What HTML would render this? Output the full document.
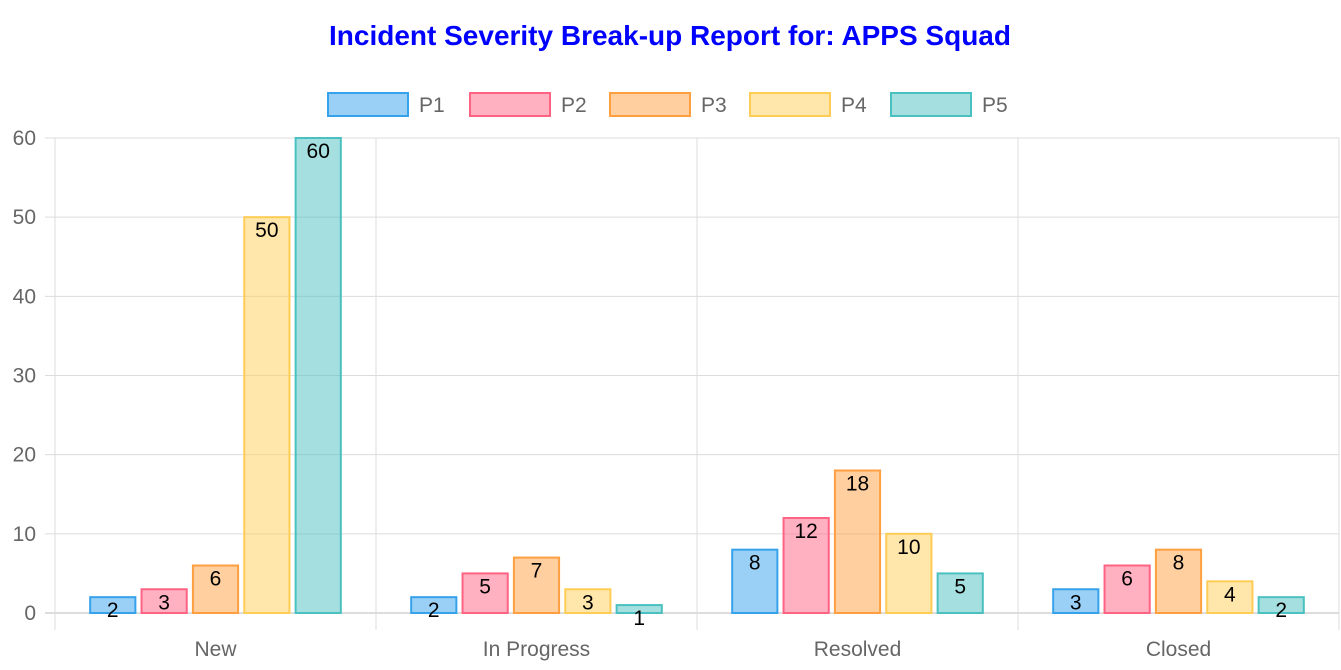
<!DOCTYPE html>
<html><head><meta charset="utf-8"><style>
body{margin:0;background:#fff;}
svg{display:block;font-family:"Liberation Sans",Arial,sans-serif;}
</style></head><body>
<svg id="chart" width="1341" height="670" viewBox="0 0 1341 670" xmlns="http://www.w3.org/2000/svg">
<text x="670" y="45" text-anchor="middle" font-size="28" font-weight="bold" fill="#0000ff">Incident Severity Break-up Report for: APPS Squad</text>
<g id="grid"></g><g id="bars"></g><g id="legend"></g><g id="axes"></g>
</svg>
<script>
const categories = ["New","In Progress","Resolved","Closed"];
const seriesNames = ["P1","P2","P3","P4","P5"];
const p1 = [2,2,8,3];
const p2 = [3,5,12,6];
const p3 = [6,7,18,8];
const p4 = [50,3,10,4];
const p5 = [60,1,5,2];
const yTicks = [0,10,20,30,40,50,60];

const series=[p1,p2,p3,p4,p5];
const colors=[[54,162,235],[255,99,132],[255,159,64],[255,205,86],[75,192,192]];
const NS="http://www.w3.org/2000/svg";
const L=55,R=1339,T=138,B=613,yMax=60;
const y=v=>B-(v/yMax)*(B-T);
const catW=(R-L)/categories.length;
const x=i=>L+catW*i;
function mk(tag,attrs,parent){const e=document.createElementNS(NS,tag);for(const k in attrs)e.setAttribute(k,attrs[k]);parent.appendChild(e);return e;}
const grid=document.getElementById('grid'),bars=document.getElementById('bars'),legend=document.getElementById('legend'),axes=document.getElementById('axes');
yTicks.forEach(t=>{
  const ln=mk('line',{x1:L-10,x2:R,y1:y(t),y2:y(t),stroke:t===0?'#bbb':'#dcdcdc','stroke-width':1},grid);
  
  
  const tx=mk('text',{x:L-19,y:y(t)+7,'text-anchor':'end','font-size':21,fill:'#666'},axes);
  tx.textContent=t;
  
  
});
for(let i=0;i<=categories.length;i++){
  const ln=mk('line',{x1:x(i),x2:x(i),y1:T,y2:B+17,stroke:'#dcdcdc','stroke-width':1},grid);
  
  
}
categories.forEach((c,i)=>{
  const tx=mk('text',{x:x(i)+catW/2,y:656,'text-anchor':'middle','font-size':21,fill:'#666'},axes);
  tx.textContent=c;
  
  
  const groupW=catW*0.8,step=groupW/series.length,bw=step*0.88;
  series.forEach((s,j)=>{
    const [r,g,b]=colors[j];
    const bx=x(i)+catW*0.1+step*j+(step-bw)/2;
    const top=y(s[i]);
    const rect=mk('rect',{x:bx,y:top,width:bw,height:B-top,fill:`rgba(${r},${g},${b},0.5)`,stroke:`rgb(${r},${g},${b})`,'stroke-width':2},bars);
    
    
    const lb=mk('text',{x:bx+bw/2,y:top+20,'text-anchor':'middle','font-size':21,fill:'#000'},bars);
    lb.textContent=s[i];
    
    
  });
});
const legX=[328,470,610,750,891];
seriesNames.forEach((n,j)=>{
  const [r,g,b]=colors[j];
  const gI=mk('g',{},legend);
  
  
  mk('rect',{x:legX[j],y:93,width:80,height:23,fill:`rgba(${r},${g},${b},0.5)`,stroke:`rgb(${r},${g},${b})`,'stroke-width':2},gI);
  const tx=mk('text',{x:legX[j]+91,y:112,'font-size':21,fill:'#666'},gI);
  tx.textContent=n;
});
</script>
</body></html>
